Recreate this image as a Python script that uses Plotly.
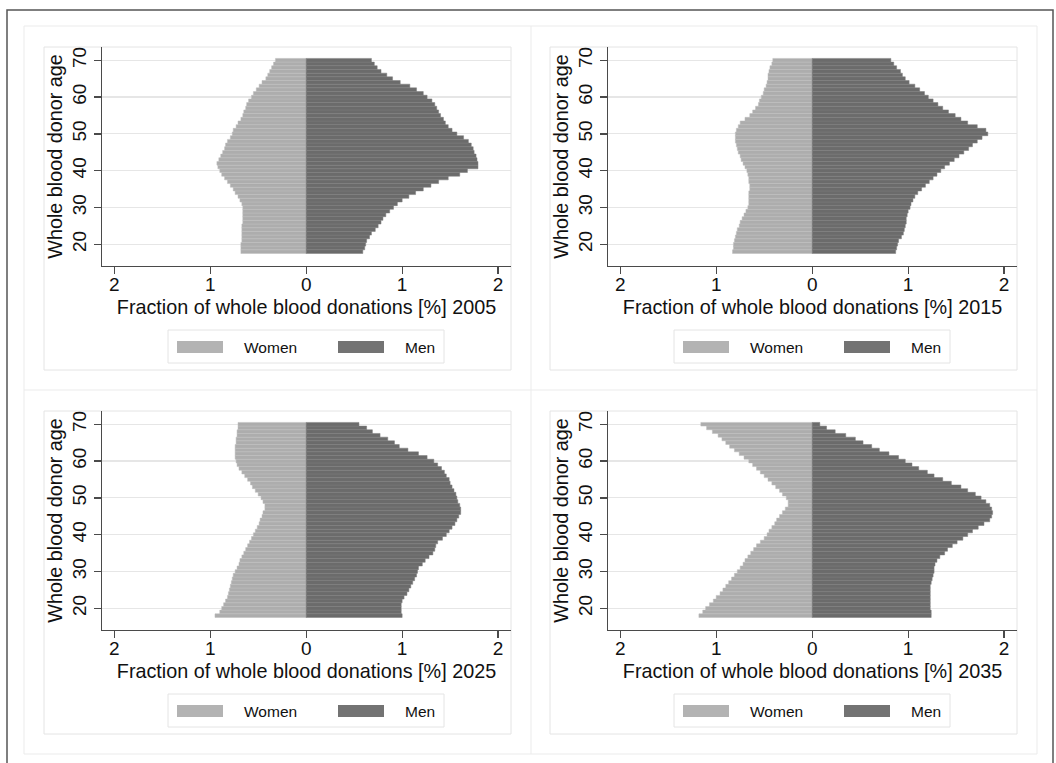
import plotly.graph_objects as go

# ---------------- data ----------------
ages = list(range(18, 71))

women_2005 = [0.68, 0.68, 0.68, 0.67, 0.67, 0.67, 0.67, 0.67, 0.66, 0.66, 0.66, 0.66, 0.66, 0.67, 0.69, 0.71,
              0.74, 0.76, 0.79, 0.82, 0.85, 0.88, 0.90, 0.92, 0.93, 0.91, 0.89, 0.87, 0.85, 0.84, 0.82, 0.79,
              0.77, 0.76, 0.73, 0.71, 0.68, 0.66, 0.65, 0.63, 0.62, 0.60, 0.57, 0.55, 0.52, 0.49, 0.46, 0.42,
              0.40, 0.38, 0.36, 0.34, 0.32]
men_2005 = [0.59, 0.61, 0.62, 0.63, 0.66, 0.68, 0.72, 0.75, 0.78, 0.80, 0.83, 0.87, 0.91, 0.95, 1.00, 1.07,
            1.14, 1.22, 1.30, 1.38, 1.48, 1.60, 1.68, 1.79, 1.79, 1.78, 1.77, 1.75, 1.74, 1.72, 1.69, 1.64,
            1.57, 1.52, 1.48, 1.45, 1.43, 1.40, 1.38, 1.36, 1.34, 1.31, 1.26, 1.22, 1.15, 1.08, 0.98, 0.90,
            0.84, 0.78, 0.74, 0.71, 0.68]

women_2015 = [0.83, 0.82, 0.82, 0.81, 0.80, 0.79, 0.78, 0.76, 0.75, 0.73, 0.71, 0.69, 0.67, 0.66, 0.66, 0.66,
              0.66, 0.65, 0.65, 0.66, 0.66, 0.67, 0.68, 0.70, 0.72, 0.74, 0.75, 0.77, 0.78, 0.79, 0.80, 0.80,
              0.80, 0.79, 0.77, 0.75, 0.70, 0.65, 0.62, 0.59, 0.56, 0.55, 0.53, 0.51, 0.50, 0.48, 0.47, 0.46,
              0.46, 0.45, 0.44, 0.42, 0.41]
men_2015 = [0.87, 0.88, 0.89, 0.90, 0.93, 0.95, 0.96, 0.97, 0.98, 0.98, 0.99, 1.00, 1.02, 1.03, 1.05, 1.07,
            1.10, 1.14, 1.18, 1.22, 1.26, 1.30, 1.34, 1.38, 1.43, 1.48, 1.53, 1.58, 1.63, 1.67, 1.72, 1.77,
            1.83, 1.81, 1.72, 1.62, 1.55, 1.49, 1.42, 1.36, 1.31, 1.26, 1.21, 1.17, 1.12, 1.07, 1.01, 0.97,
            0.94, 0.92, 0.88, 0.85, 0.82]

women_2025 = [0.95, 0.90, 0.88, 0.86, 0.84, 0.82, 0.81, 0.80, 0.79, 0.78, 0.77, 0.76, 0.74, 0.72, 0.70, 0.69,
              0.67, 0.65, 0.63, 0.61, 0.59, 0.57, 0.55, 0.53, 0.51, 0.49, 0.48, 0.46, 0.45, 0.43, 0.43, 0.45,
              0.47, 0.50, 0.53, 0.56, 0.58, 0.61, 0.64, 0.67, 0.70, 0.72, 0.73, 0.74, 0.74, 0.74, 0.74, 0.73,
              0.73, 0.72, 0.72, 0.71, 0.71]
men_2025 = [1.00, 0.99, 0.99, 0.99, 1.00, 1.02, 1.05, 1.07, 1.09, 1.11, 1.13, 1.15, 1.16, 1.17, 1.21, 1.24,
            1.28, 1.32, 1.34, 1.35, 1.37, 1.42, 1.46, 1.49, 1.52, 1.55, 1.57, 1.59, 1.61, 1.61, 1.60, 1.58,
            1.57, 1.56, 1.54, 1.52, 1.50, 1.49, 1.46, 1.44, 1.41, 1.37, 1.33, 1.26, 1.17, 1.06, 0.97, 0.92,
            0.85, 0.77, 0.69, 0.63, 0.55]

women_2035 = [1.18, 1.14, 1.11, 1.07, 1.03, 1.00, 0.96, 0.93, 0.90, 0.87, 0.84, 0.81, 0.78, 0.75, 0.72, 0.70,
              0.67, 0.64, 0.61, 0.58, 0.54, 0.50, 0.47, 0.45, 0.42, 0.39, 0.37, 0.34, 0.31, 0.28, 0.25, 0.25,
              0.27, 0.31, 0.34, 0.38, 0.42, 0.46, 0.50, 0.54, 0.58, 0.62, 0.66, 0.71, 0.76, 0.81, 0.86, 0.90,
              0.94, 0.98, 1.04, 1.10, 1.16]
men_2035 = [1.24, 1.24, 1.23, 1.23, 1.23, 1.23, 1.23, 1.23, 1.23, 1.24, 1.25, 1.26, 1.27, 1.27, 1.28, 1.30,
            1.33, 1.38, 1.41, 1.46, 1.51, 1.57, 1.62, 1.67, 1.73, 1.79, 1.85, 1.87, 1.88, 1.87, 1.85, 1.81,
            1.76, 1.70, 1.62, 1.55, 1.45, 1.36, 1.27, 1.20, 1.11, 1.04, 0.97, 0.90, 0.80, 0.70, 0.62, 0.53,
            0.45, 0.35, 0.24, 0.15, 0.08]

years = ["2005", "2015", "2025", "2035"]
women_all = [women_2005, women_2015, women_2025, women_2035]
men_all = [men_2005, men_2015, men_2025, men_2035]

x_tickvals = [-2, -1, 0, 1, 2]
x_ticktext = ["2", "1", "0", "1", "2"]
y_tickvals = [20, 30, 40, 50, 60, 70]
legend_labels = ["Women", "Men"]

# ---------------- styling ----------------
W, H = 1056, 763
FONT = "Liberation Sans, Arial, Helvetica, sans-serif"
WOMEN_FILL, WOMEN_LINE = "#adadad", "#bebebe"
MEN_FILL, MEN_LINE = "#6b6b6b", "#7c7c7c"
AXIS_COL = "#4a4a4a"
GRID_COL = "#e6e6e6"
BOX_COL = "#e4e4e4"
TXT_COL = "#111111"


def px(x):
    return x / W


def py(y):
    return 1 - y / H


# panel origins (pixel offsets), plot area of top-left: x 102-511, y 47-266
offsets = [(0, 0), (506, 0), (0, 364), (506, 364)]

fig = go.Figure()
layout = dict(
    width=W, height=H, margin=dict(l=0, r=0, t=0, b=0),
    paper_bgcolor="white", plot_bgcolor="white",
    showlegend=False, barmode="overlay", bargap=0,
    font=dict(family=FONT, size=19, color=TXT_COL),
)
shapes = []
annotations = []

for i, (year, women, men) in enumerate(zip(years, women_all, men_all)):
    dx, dy = offsets[i]
    xa = "x" if i == 0 else f"x{i + 1}"
    ya = "y" if i == 0 else f"y{i + 1}"
    fig.add_trace(go.Bar(
        y=ages, x=[-v for v in women], orientation="h", width=1,
        marker=dict(color=WOMEN_FILL, line=dict(color=WOMEN_LINE, width=0.5)),
        name=legend_labels[0], xaxis=xa, yaxis=ya, showlegend=False))
    fig.add_trace(go.Bar(
        y=ages, x=men, orientation="h", width=1,
        marker=dict(color=MEN_FILL, line=dict(color=MEN_LINE, width=0.5)),
        name=legend_labels[1], xaxis=xa, yaxis=ya, showlegend=False))

    xkey = "xaxis" if i == 0 else f"xaxis{i + 1}"
    ykey = "yaxis" if i == 0 else f"yaxis{i + 1}"
    layout[xkey] = dict(
        domain=[px(102 + dx), px(511 + dx)], anchor=ya,
        range=[-2.127, 2.134], tickmode="array", tickvals=x_tickvals, ticktext=x_ticktext,
        showgrid=False, zeroline=False, showline=True, linecolor=AXIS_COL, linewidth=1.4,
        ticks="outside", ticklen=7, tickwidth=1.3, tickcolor=AXIS_COL, ticklabelstandoff=-6,
        tickfont=dict(size=19, family=FONT, color=TXT_COL),
        title=dict(text=f"Fraction of whole blood donations [%] {year}",
                   font=dict(size=19.8, family=FONT, color=TXT_COL), standoff=6),
        automargin=True, fixedrange=True,
    )
    layout[ykey] = dict(
        domain=[py(266 + dy), py(47 + dy)], anchor=xa,
        range=[14.1, 73.6], tickmode="array", tickvals=y_tickvals,
        showgrid=True, gridcolor=GRID_COL, gridwidth=1.2, zeroline=False,
        showline=True, linecolor=AXIS_COL, linewidth=1.4,
        ticks="outside", ticklen=7, tickwidth=1.3, tickcolor=AXIS_COL, tickangle=-90,
        tickfont=dict(size=19, family=FONT, color=TXT_COL),
        title=dict(text="Whole blood donor age",
                   font=dict(size=19.8, family=FONT, color=TXT_COL), standoff=1),
        automargin=True, fixedrange=True,
    )

    # inner graph-region box
    shapes.append(dict(type="rect", xref="paper", yref="paper", layer="below",
                       x0=px(44 + dx), x1=px(511 + dx), y0=py(370 + dy), y1=py(47 + dy),
                       line=dict(color=BOX_COL, width=1)))
    # legend box
    shapes.append(dict(type="rect", xref="paper", yref="paper",
                       x0=px(168 + dx), x1=px(444 + dx), y0=py(363 + dy), y1=py(330 + dy),
                       line=dict(color=BOX_COL, width=1), fillcolor="white"))
    # legend swatches
    shapes.append(dict(type="rect", xref="paper", yref="paper",
                       x0=px(177 + dx), x1=px(223 + dx), y0=py(353 + dy), y1=py(341 + dy),
                       line=dict(width=0), fillcolor="#b3b3b3"))
    shapes.append(dict(type="rect", xref="paper", yref="paper",
                       x0=px(338 + dx), x1=px(384 + dx), y0=py(353 + dy), y1=py(341 + dy),
                       line=dict(width=0), fillcolor="#737373"))
    annotations.append(dict(text=legend_labels[0], xref="paper", yref="paper",
                            x=px(242 + dx), y=py(347 + dy), xanchor="left", yanchor="middle",
                            showarrow=False, font=dict(size=15.5, family=FONT, color=TXT_COL)))
    annotations.append(dict(text=legend_labels[1], xref="paper", yref="paper",
                            x=px(403 + dx), y=py(347 + dy), xanchor="left", yanchor="middle",
                            showarrow=False, font=dict(size=15.5, family=FONT, color=TXT_COL)))

# cell grid (light)
shapes.append(dict(type="rect", xref="paper", yref="paper", layer="below",
                   x0=px(24), x1=px(1037), y0=py(754), y1=py(26),
                   line=dict(color="#ebebeb", width=1)))
shapes.append(dict(type="line", xref="paper", yref="paper", layer="below",
                   x0=px(531), x1=px(531), y0=py(754), y1=py(26),
                   line=dict(color="#ebebeb", width=1)))
shapes.append(dict(type="line", xref="paper", yref="paper", layer="below",
                   x0=px(24), x1=px(1037), y0=py(390), y1=py(390),
                   line=dict(color="#ebebeb", width=1)))
# outer dark frame
shapes.append(dict(type="rect", xref="paper", yref="paper", layer="below",
                   x0=px(7), x1=px(1053), y0=py(775), y1=py(10),
                   line=dict(color="#555555", width=1.5)))

layout["shapes"] = shapes
layout["annotations"] = annotations
fig.update_layout(**layout)

fig.write_html("out.html", config={"displayModeBar": False, "staticPlot": True},
               post_script="document.body.style.margin='0px';document.body.style.overflow='hidden';")
